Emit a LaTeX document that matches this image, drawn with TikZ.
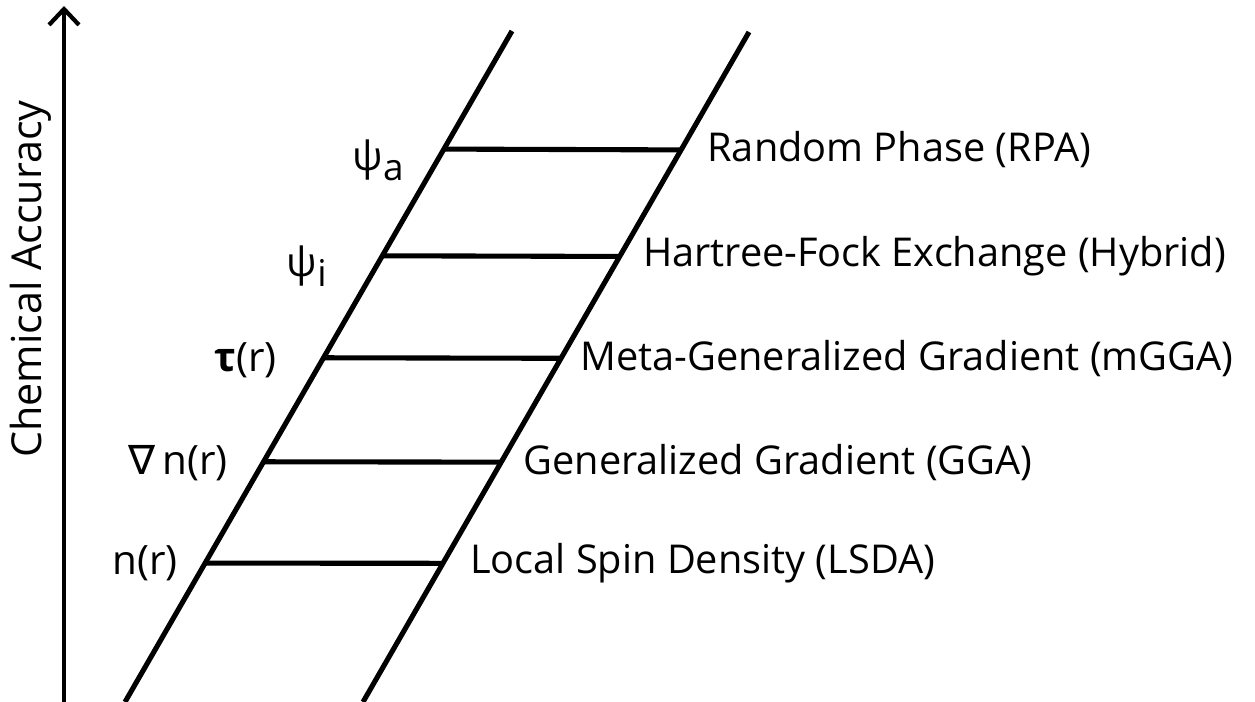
\documentclass[tikz,border=0pt]{standalone}
\usepackage{fontspec}
\usepackage{tikz}
\usetikzlibrary{arrows.meta}
\setmainfont{Open Sans}
\newfontfamily\nablafont{DejaVu Sans}
\tikzset{
  rail/.style={line width=2.9pt},
  rung/.style={line width=2.9pt},
  rungtext/.style={anchor=west, inner sep=0pt, font=\fontsize{22.6}{27}\selectfont},
  vartext/.style={anchor=east, inner sep=0pt, font=\fontsize{23}{27}\selectfont}
}

\begin{document}
\begin{tikzpicture}[x=0.02cm,y=-0.02cm]
    \useasboundingbox (0,0) rectangle (1255,702);

    % accuracy axis
    \coordinate (axisbot) at (64,702);
    \coordinate (axistop) at (64,6);
    \draw[line width=2.4pt, line cap=round, -{Straight Barb[length=9pt,width=17pt,line width=2.4pt]}] (axisbot) -- (axistop);
    \node[rotate=90, inner sep=0pt, font=\fontsize{23.5}{27}\selectfont] (accuracy) at (31,279) {Chemical Accuracy};

    % the two rails
    \coordinate (lbot) at (125,702);
    \coordinate (ltop) at (512,31);
    \coordinate (rbot) at (363,702);
    \coordinate (rtop) at (749,32);
    \draw[rail] (lbot) -- (ltop);
    \draw[rail] (rbot) -- (rtop);

    % rung ends on the rails
    \path (lbot) -- (ltop)
        coordinate[pos=0.207] (l1) coordinate[pos=0.358] (l2)
        coordinate[pos=0.513] (l3) coordinate[pos=0.665] (l4)
        coordinate[pos=0.824] (l5);
    \path (rbot) -- (rtop)
        coordinate[pos=0.207] (r1) coordinate[pos=0.358] (r2)
        coordinate[pos=0.513] (r3) coordinate[pos=0.665] (r4)
        coordinate[pos=0.824] (r5);

    \draw[rung] (l1) -- (r1);
    \draw[rung] (l2) -- (r2);
    \draw[rung] (l3) -- (r3);
    \draw[rung] (l4) -- (r4);
    \draw[rung] (l5) -- (r5);

    % functional names
    \node[rungtext] (lsda) at ([shift={(27,0)}]r1) {Local Spin Density (LSDA)};
    \node[rungtext] (gga) at ([shift={(22,0)}]r2) {Generalized Gradient (GGA)};
    \node[rungtext] (mgga) at ([shift={(19,0)}]r3) {Meta-Generalized Gradient (mGGA)};
    \node[rungtext] (hybrid) at ([shift={(23,0)}]r4) {Hartree-Fock Exchange (Hybrid)};
    \node[rungtext] (rpa) at ([shift={(26,0)}]r5) {Random Phase (RPA)};

    % ingredients
    \node[vartext] (dens) at (178,563) {n(r)};
    \node[vartext] (grad) at (228,463) {{\nablafont ∇}\,n(r)};
    \node[vartext] (kin) at (277,360) {\textbf{τ}(r)};
    \node[vartext] (occ) at (327,266) {ψ\raisebox{-0.45ex}{\fontsize{21}{24}\selectfont i}};
    \node[vartext] (virt) at (404,160) {ψ\raisebox{-0.45ex}{\fontsize{21}{24}\selectfont a}};
\end{tikzpicture}
\end{document}
